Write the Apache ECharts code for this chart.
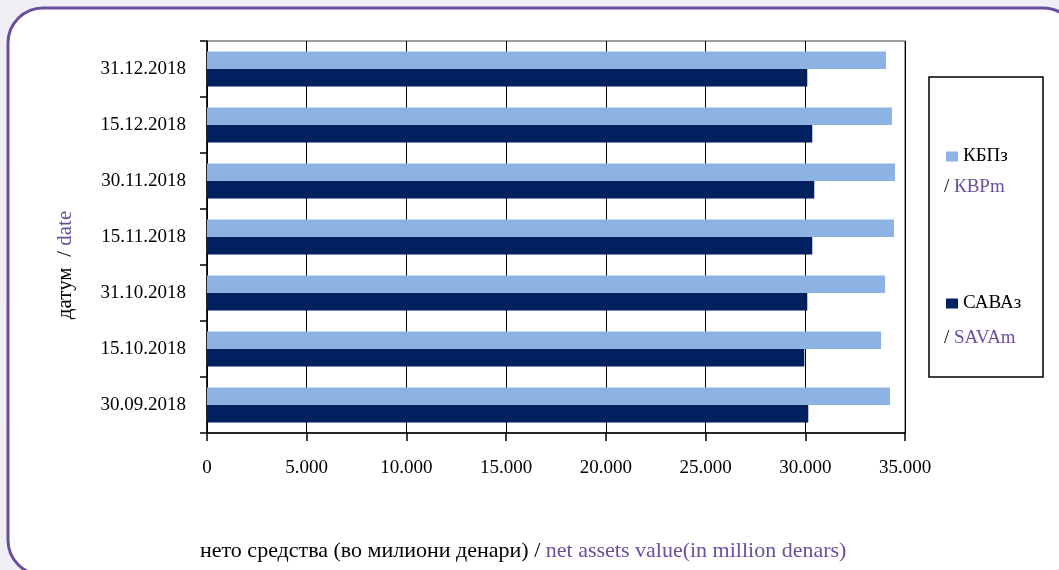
<!DOCTYPE html>
<html>
<head>
<meta charset="utf-8">
<script src="https://cdn.jsdelivr.net/npm/echarts@6/dist/echarts.min.js"></script>
<style>html,body{margin:0;padding:0;background:#efeff5;}#c{width:1059px;height:570px;}</style>
</head>
<body>
<div id="c"></div>
<script>
var categories = ['30.09.2018','15.10.2018','31.10.2018','15.11.2018','30.11.2018','15.12.2018','31.12.2018'];
var kbpValues = [34250, 33800, 34000, 34450, 34500, 34350, 34050];
var savaValues = [30150, 29950, 30100, 30350, 30450, 30350, 30100];
var xTicks = {min: 0, max: 35000, interval: 5000};

var FONT = 'Liberation Serif';
var PURPLE = '#6a4f9e';
var chart = echarts.init(document.getElementById('c'));
chart.setOption({
  backgroundColor: '#efeff5',
  animation: false,
  textStyle: {fontFamily: FONT},
  graphic: [
    {type: 'rect', z: -10, shape: {x: 8, y: 8, width: 1070, height: 567, r: 35},
     style: {fill: '#ffffff', stroke: PURPLE, lineWidth: 3}},
    {type: 'rect', z: 5, shape: {x: 929, y: 77, width: 114, height: 300},
     style: {fill: 'none', stroke: '#000', lineWidth: 1.5}},
    {type: 'text', z: 6, left: 944, top: 178,
     style: {text: '{a|/ }{b|КВРm}', rich: {a: {fill: '#000', fontSize: 19, fontFamily: FONT}, b: {fill: PURPLE, fontSize: 19, fontFamily: FONT}}}},
    {type: 'text', z: 6, left: 944, top: 329,
     style: {text: '{a|/ }{b|SAVAm}', rich: {a: {fill: '#000', fontSize: 19, fontFamily: FONT}, b: {fill: PURPLE, fontSize: 19, fontFamily: FONT}}}},
    {type: 'text', z: 6, left: 200, top: 540,
     style: {text: '{a|нето средства (во милиони денари) / }{b|net assets value(in million denars)}',
       rich: {a: {fill: '#000', fontSize: 22, fontFamily: FONT}, b: {fill: PURPLE, fontSize: 22, fontFamily: FONT}}}},
    {type: 'text', z: 6, x: 65, y: 265, rotation: Math.PI / 2,
     style: {text: '{a|датум  / }{b|date}', align: 'center', verticalAlign: 'middle',
       rich: {a: {fill: '#000', fontSize: 21, fontFamily: FONT}, b: {fill: PURPLE, fontSize: 21, fontFamily: FONT}}}}
  ],
  legend: {
    orient: 'vertical', left: 941, top: 142, itemGap: 128,
    itemWidth: 12, itemHeight: 10, icon: 'rect',
    data: ['КБПз', 'САВАз'],
    textStyle: {fontSize: 19, fontFamily: FONT, color: '#000'}
  },
  grid: {left: 207, right: 154, top: 41, bottom: 137, show: true, borderColor: '#808080', borderWidth: 1.5, backgroundColor: '#fff'},
  xAxis: {
    type: 'value', min: xTicks.min, max: xTicks.max, interval: xTicks.interval,
    axisLine: {show: true, lineStyle: {color: '#000', width: 1.5}},
    axisTick: {show: true, length: 8, lineStyle: {color: '#000', width: 1.5}},
    splitLine: {show: true, lineStyle: {color: '#000', width: 1}},
    axisLabel: {fontSize: 19, fontFamily: FONT, color: '#000', margin: 26,
      formatter: function (v) { return v === 0 ? '0' : (v / 1000).toFixed(3); }}
  },
  yAxis: {
    type: 'category', data: categories,
    axisLine: {show: true, lineStyle: {color: '#000', width: 1.5}},
    axisTick: {show: true, length: 7, lineStyle: {color: '#000', width: 1.5}},
    axisLabel: {fontSize: 19, fontFamily: FONT, color: '#000', margin: 21}
  },
  series: [
    {name: 'КБПз', type: 'bar', data: kbpValues, itemStyle: {color: '#8db3e2'}, barGap: '0%', barCategoryGap: '37.5%'},
    {name: 'САВАз', type: 'bar', data: savaValues, itemStyle: {color: '#002060'}, barGap: '0%', barCategoryGap: '37.5%'}
  ]
});
</script>
</body>
</html>
